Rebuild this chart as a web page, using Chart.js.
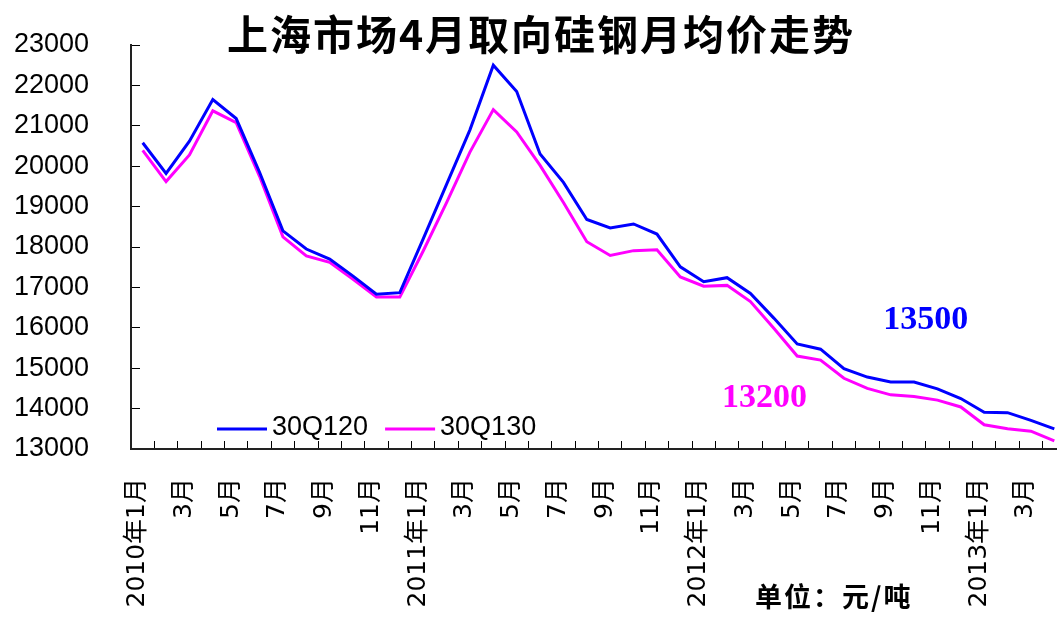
<!DOCTYPE html>
<html>
<head>
<meta charset="utf-8">
<title>上海市场4月取向硅钢月均价走势</title>
<script src="https://cdn.jsdelivr.net/npm/chart.js@4.4.1/dist/chart.umd.min.js"></script>
<style>
    html, body { margin: 0; padding: 0; background: #fff; overflow: hidden; }
    #wrap { position: relative; width: 1066px; height: 617px; }
</style>
</head>
<body>
<div id="wrap"><canvas id="priceChart"></canvas></div>
<script>
// 月份 (2010年1月 - 2013年4月)
const months = [
    '2010年1月', '2月', '3月', '4月', '5月', '6月', '7月', '8月', '9月', '10月', '11月', '12月',
    '2011年1月', '2月', '3月', '4月', '5月', '6月', '7月', '8月', '9月', '10月', '11月', '12月',
    '2012年1月', '2月', '3月', '4月', '5月', '6月', '7月', '8月', '9月', '10月', '11月', '12月',
    '2013年1月', '2月', '3月', '4月'
];

const price30Q120 = [
    20580, 19820, 20620, 21650, 21180, 19850, 18400, 17950, 17700, 17280, 16830, 16870,
    18200, 19550, 20900, 22500, 21850, 20300, 19600, 18680, 18470, 18570, 18320, 17510,
    17140, 17240, 16850, 16240, 15600, 15470, 14990, 14780, 14660, 14660, 14490, 14250,
    13910, 13900, 13710, 13500
];

const price30Q130 = [
    20390, 19620, 20280, 21370, 21080, 19750, 18250, 17780, 17620, 17200, 16760, 16760,
    17900, 19100, 20350, 21400, 20850, 20020, 19100, 18130, 17790, 17910, 17930, 17260,
    17030, 17050, 16650, 15990, 15300, 15200, 14750, 14500, 14340, 14300, 14210, 14040,
    13600, 13500, 13440, 13200
];

const seriesNames = ['30Q120', '30Q130'];
const yTickValues = [13000, 14000, 15000, 16000, 17000, 18000, 19000, 20000, 21000, 22000, 23000];

const titleText = '上海市场4月取向硅钢月均价走势';
const unitText = '单位：元/吨';

// where the end-value labels sit (category index, price)
const endLabelPos = [
    { index: 33.5, value: 16190 },
    { index: 26.6, value: 14260 }
];

const lineColors = ['#0000ff', '#ff00ff'];

// titles, legend, end labels
const textPlugin = {
    id: 'textPlugin',
    afterDraw(chart) {
        const { ctx, chartArea, scales } = chart;
        ctx.save();

        // 标题
        ctx.font = 'bold 41px "Noto Sans CJK SC"';
        ctx.letterSpacing = '2px';
        ctx.fillStyle = '#000';
        ctx.textAlign = 'center';
        ctx.textBaseline = 'middle';
        ctx.fillText(titleText, chart.width / 2 + 8, 34);

        // 单位
        ctx.font = 'bold 27px "Noto Sans CJK SC"';
        ctx.letterSpacing = '2px';
        ctx.textAlign = 'left';
        ctx.fillText(unitText, 755, 597);
        ctx.letterSpacing = '0px';

        // legend inside the plot
        ctx.font = '27px "Liberation Sans"';
        let lx = chartArea.left + 86;
        const ly = chartArea.bottom - 20;
        chart.data.datasets.forEach(ds => {
            ctx.strokeStyle = ds.borderColor;
            ctx.lineWidth = 3;
            ctx.beginPath();
            ctx.moveTo(lx, ly);
            ctx.lineTo(lx + 50, ly);
            ctx.stroke();
            ctx.fillStyle = '#000';
            ctx.fillText(ds.label, lx + 55, ly - 1);
            lx += 55 + ctx.measureText(ds.label).width + 17;
        });

        // 最新价格
        ctx.font = 'bold 34px "Liberation Serif"';
        ctx.textAlign = 'center';
        chart.data.datasets.forEach((ds, i) => {
            const pos = endLabelPos[i];
            const last = ds.data[ds.data.length - 1];
            ctx.fillStyle = ds.borderColor;
            ctx.fillText(String(last), scales.x.getPixelForValue(pos.index), scales.y.getPixelForValue(pos.value));
        });

        ctx.restore();
    }
};

const ctx = document.getElementById('priceChart').getContext('2d');

const priceChart = new Chart(ctx, {
    type: 'line',
    data: {
        labels: months,
        datasets: [
            {
                label: seriesNames[0],
                data: price30Q120,
                borderColor: lineColors[0],
                borderWidth: 3,
                pointRadius: 0,
                tension: 0,
                fill: false
            },
            {
                label: seriesNames[1],
                data: price30Q130,
                borderColor: lineColors[1],
                borderWidth: 3,
                pointRadius: 0,
                tension: 0,
                fill: false
            }
        ]
    },
    options: {
        responsive: true,
        maintainAspectRatio: false,
        animation: false,
        layout: { padding: { top: 45, left: 0, right: 0, bottom: 0 } },
        plugins: {
            legend: { display: false },
            tooltip: { enabled: false },
            title: { display: false }
        },
        scales: {
            x: {
                type: 'category',
                offset: true,
                grid: {
                    display: true,
                    offset: true,
                    drawOnChartArea: false,
                    drawTicks: true,
                    tickLength: -8,
                    color: '#000',
                    lineWidth: 1
                },
                border: { display: true, color: '#222', width: 2 },
                ticks: {
                    autoSkip: false,
                    maxRotation: 90,
                    minRotation: 90,
                    padding: 37,
                    labelOffset: -5,
                    color: '#000',
                    font: { family: '"DejaVu Sans", "Noto Sans CJK SC"', size: 25 },
                    callback: function (value, index) {
                        return index % 2 === 0 ? this.getLabelForValue(value) : '';
                    }
                },
                afterFit: function (scale) {
                    scale.height = 168;
                    scale.paddingLeft = 0;
                    scale.paddingRight = 0;
                }
            },
            y: {
                min: 13000,
                max: 23000,
                grid: {
                    display: true,
                    drawOnChartArea: false,
                    drawTicks: true,
                    tickLength: -9,
                    color: '#000',
                    lineWidth: 1
                },
                border: { display: true, color: '#222', width: 2 },
                ticks: {
                    padding: 51,
                    color: '#000',
                    font: { family: '"Liberation Sans"', size: 27 },
                    callback: function (value) {
                        return String(value);
                    }
                },
                afterBuildTicks: function (scale) {
                    scale.ticks = yTickValues.map(v => ({ value: v }));
                },
                afterFit: function (scale) {
                    scale.width = 131;
                    scale.paddingTop = 0;
                    scale.paddingBottom = 0;
                }
            }
        }
    },
    plugins: [textPlugin]
});
</script>
</body>
</html>
